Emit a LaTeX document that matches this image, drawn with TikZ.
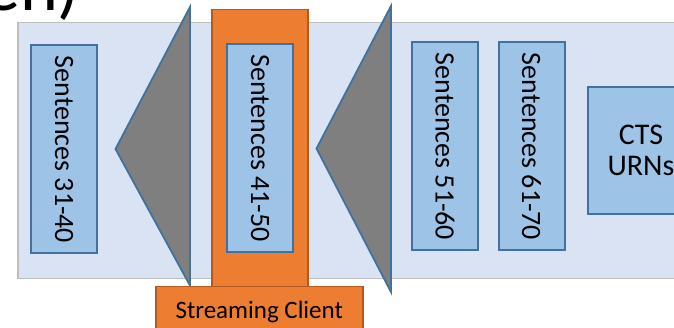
\documentclass[tikz,border=0pt]{standalone}
\usepackage{fontspec}
\setmainfont{Carlito}
\definecolor{panelfill}{HTML}{DAE3F3}
\definecolor{panelline}{HTML}{BFBFBF}
\definecolor{boxfill}{HTML}{9DC3E6}
\definecolor{boxline}{HTML}{41719C}
\definecolor{clientfill}{HTML}{ED7D31}
\definecolor{clientline}{HTML}{B55A1E}
\definecolor{funnel}{HTML}{7F7F7F}
\tikzset{
  panel/.style={draw=panelline, fill=panelfill, line width=1.5pt, inner sep=0pt, anchor=north west},
  sentbox/.style={draw=boxline, fill=boxfill, line width=2pt, inner sep=0pt,
    rotate=-90, minimum width=208pt, minimum height=66pt,
    font=\fontsize{28}{32}\selectfont},
  urnbox/.style={draw=boxline, fill=boxfill, line width=2pt, inner sep=0pt, anchor=north west,
    minimum width=106pt, minimum height=127pt, align=center,
    font=\fontsize{30}{31}\selectfont},
  client/.style={draw=clientline, fill=clientfill, line width=1.5pt, inner sep=0pt, anchor=north west},
  funnelshape/.style={draw=boxline, fill=funnel, line width=1.8pt, line join=miter},
}
\begin{document}
\begin{tikzpicture}[x=1pt,y=-1pt]
\useasboundingbox (0,0) rectangle (674,328);
\clip (0,0) rectangle (674,328);

% heading running off the top edge
\node[anchor=base east, inner sep=0pt, font=\fontsize{72}{80}\selectfont] (heading) at (80,11) {en)};

% light band holding the sentence blocks
\node[panel, minimum width=690pt, minimum height=256pt] (band) at (17,22) {};

\node[sentbox] (s31) at (64,149.5) {Sentences 31-40};

% left funnel
\filldraw[funnelshape] (190,7) -- (115.5,149) -- (190,285.5) -- cycle;

% streaming client column and label bar
\node[client, minimum width=96pt, minimum height=280pt] (column) at (211,9) {};
\node[client, minimum width=207pt, minimum height=51pt,
      font=\fontsize{25}{28}\selectfont] (stream) at (155,286) {Streaming Client};

\node[sentbox] (s41) at (260,148) {Sentences 41-50};

% right funnel
\filldraw[funnelshape] (391,6) -- (316.5,148.5) -- (391,292) -- cycle;

\node[sentbox] (s51) at (445,146.5) {Sentences 51-60};
\node[sentbox] (s61) at (531.5,146.5) {Sentences 61-70};

\node[urnbox] (urns) at (587,86) {CTS\\URNs};
\end{tikzpicture}
\end{document}
